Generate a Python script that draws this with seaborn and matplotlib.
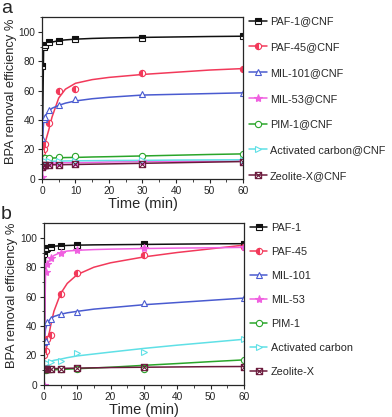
import numpy as np
import pandas as pd
import matplotlib
matplotlib.use("Agg")
import matplotlib.pyplot as plt
from matplotlib.lines import Line2D
from matplotlib.path import Path
import seaborn as sns

# sample times (markers) and times for the fitted curves
t_pts = [0, 0.5, 1, 2, 5, 10, 30, 60]
t_fit = [0, 0.5, 1, 2, 3, 5, 7, 10, 15, 20, 30, 40, 50, 60]

names = ["PAF-1", "PAF-45", "MIL-101", "MIL-53", "PIM-1", "Activated carbon", "Zeolite-X"]
colors = ["#111111", "#f2395a", "#4a5bd0", "#f060e0", "#2aa52a", "#5fe0e6", "#6b1a3c"]

# square with a cross inside, for Zeolite-X
box_x = Path([(-1, -1), (1, -1), (1, 1), (-1, 1), (-1, -1), (-1, -1), (1, 1), (-1, 1), (1, -1)],
             [Path.MOVETO, Path.LINETO, Path.LINETO, Path.LINETO, Path.CLOSEPOLY,
              Path.MOVETO, Path.LINETO, Path.MOVETO, Path.LINETO])
markers = ["s", "o", "^", "*", "o", ">", box_x]
fills = ["top", "left", "none", "full", "none", "none", "none"]

# panel a : @CNF composites
a_pts = {
    "PAF-1": [77, 89.5, 91, 93, 94, 95, 96, 97],
    "PAF-45": [18, 20, 24, 38, 60, 61, 72, 75],
    "MIL-101": [28, 41, 42, 47, 50, 54, 58, 58.5],
    "MIL-53": [1, 9, 10, 10.5, 11, 11, 12, 12],
    "PIM-1": [12, 14, 14, 14, 15, 15.5, 15.5, 17],
    "Activated carbon": [11, 12, 12, 12, 12.5, 12.5, 13, 13],
    "Zeolite-X": [8, 9.5, 9.5, 9.5, 9.5, 10, 10, 11.5],
}
a_fit = {
    "PAF-1": [0, 89, 91, 92.5, 93, 94, 94.5, 95, 95.5, 95.8, 96.2, 96.5, 96.8, 97],
    "PAF-45": [18, 20, 25, 33, 42, 55, 61, 65, 67.5, 69, 71, 72.5, 74, 75],
    "MIL-101": [22, 38, 43, 46, 48, 50, 51.5, 53, 54.5, 55.5, 57, 57.5, 58, 58.5],
    "MIL-53": [0, 9.5, 10, 10.5, 10.5, 11, 11, 11, 11.2, 11.5, 11.8, 12, 12, 12],
    "PIM-1": [14, 14, 14, 14.1, 14.2, 14.3, 14.5, 14.6, 14.9, 15.1, 15.6, 16.1, 16.6, 17],
    "Activated carbon": [12, 12, 12, 12, 12, 12.1, 12.2, 12.3, 12.4, 12.5, 12.6, 12.8, 12.9, 13],
    "Zeolite-X": [9.5, 9.5, 9.5, 9.5, 9.6, 9.6, 9.7, 9.8, 10.0, 10.2, 10.6, 11.0, 11.4, 11.8],
}

# panel b : pristine adsorbents
b_pts = {
    "PAF-1": [89, 92.5, 93, 94, 94.5, 95, 95.5, 96],
    "PAF-45": [20, 23, 31, 34, 62, 76, 88, 94],
    "MIL-101": [29, 30, 43, 45, 48, 49.5, 55.5, 59],
    "MIL-53": [0, 77, 82, 86, 90, 92, 93, 93.5],
    "PIM-1": [10, 10, 10.5, 10.5, 11, 11, 11, 17],
    "Activated carbon": [13, 14, 15, 15.5, 16, 21.5, 22.5, 31],
    "Zeolite-X": [11, 11, 11, 11, 11, 11.5, 12, 12.5],
}
b_fit = {
    "PAF-1": [0, 92, 93, 94, 94.3, 94.6, 94.8, 95, 95.2, 95.3, 95.5, 95.7, 95.9, 96],
    "PAF-45": [18, 22, 28, 40, 50, 62, 69, 75, 80, 83, 87, 90, 92.5, 95],
    "MIL-101": [28, 38, 42, 45, 46.5, 48, 49, 50, 51.5, 52.5, 54.5, 56, 57.5, 59],
    "MIL-53": [0, 78, 82, 86, 88, 90, 91, 91.5, 92, 92.3, 92.7, 93, 93.2, 93.5],
    "PIM-1": [10, 10, 10.1, 10.2, 10.3, 10.5, 10.7, 11, 11.5, 12, 13.3, 14.5, 15.8, 17],
    "Activated carbon": [13, 14, 15, 16, 16.7, 17.5, 18.5, 19.7, 21, 22.3, 24.8, 27, 29, 31],
    "Zeolite-X": [11, 11, 11, 11, 11.1, 11.2, 11.3, 11.4, 11.6, 11.8, 12, 12.2, 12.4, 12.5],
}

sns.set_style("ticks")
plt.rcParams["font.family"] = ["Liberation Sans", "DejaVu Sans"]

fig = plt.figure(figsize=(3.92, 4.17), dpi=100)
ax_a = fig.add_axes([0.107, 0.571, 0.513, 0.388])
ax_b = fig.add_axes([0.112, 0.077, 0.510, 0.388])


def draw_panel(ax, pts, fit, suffix, spacing, ylab_xy):
    fit_df = pd.concat(
        [pd.DataFrame({"t": t_fit, "y": fit[n], "name": n}) for n in names]
    )
    sns.lineplot(data=fit_df, x="t", y="y", hue="name", hue_order=names,
                 palette=colors, linewidth=1.1, legend=False, ax=ax, sort=False)
    handles = []
    for n, c, m, f in zip(names, colors, markers, fills):
        ms = 6 if m == "*" else 4.5
        kw = dict(marker=m, color=c, markersize=ms, markeredgewidth=0.8,
                  fillstyle=f, markerfacecoloralt="white")
        if f == "none":
            kw["fillstyle"] = "full"
            kw["markerfacecolor"] = "none" if n == "Zeolite-X" else "white"
        ax.plot(t_pts, pts[n], linestyle="none", **kw)
        handles.append(Line2D([], [], linewidth=1.1, **kw))
    labels = [n + suffix for n in names]
    ax.legend(handles, labels, loc="upper left", bbox_to_anchor=(1.01, 1.03),
              frameon=False, fontsize=7.8, labelspacing=spacing, handlelength=1.6,
              handletextpad=0.3, borderaxespad=0)
    ax.set_xlim(0, 60)
    ax.set_ylim(0, 110)
    ax.set_xticks([0, 10, 20, 30, 40, 50, 60])
    ax.set_yticks([0, 20, 40, 60, 80, 100])
    ax.set_xticks(np.arange(0, 61, 5), minor=True)
    ax.set_yticks(np.arange(0, 111, 10), minor=True)
    ax.tick_params(labelsize=7.3, length=3, width=0.8, pad=2)
    ax.tick_params(which="minor", length=1.8, width=0.6)
    ax.set_xlabel("Time (min)", fontsize=10.5, labelpad=1)
    ax.set_ylabel("BPA removal efficiency %", fontsize=9.3)
    ax.yaxis.set_label_coords(*ylab_xy)
    for s in ax.spines.values():
        s.set_linewidth(0.9)


draw_panel(ax_a, a_pts, a_fit, "@CNF", 1.45, (-0.125, 0.54))
draw_panel(ax_b, b_pts, b_fit, "", 1.3, (-0.13, 0.555))

fig.text(0.003, 1.0, "a", fontsize=14, va="top", ha="left")
fig.text(0.003, 0.507, "b", fontsize=14, va="top", ha="left")

fig.savefig("out.png", dpi=100)
